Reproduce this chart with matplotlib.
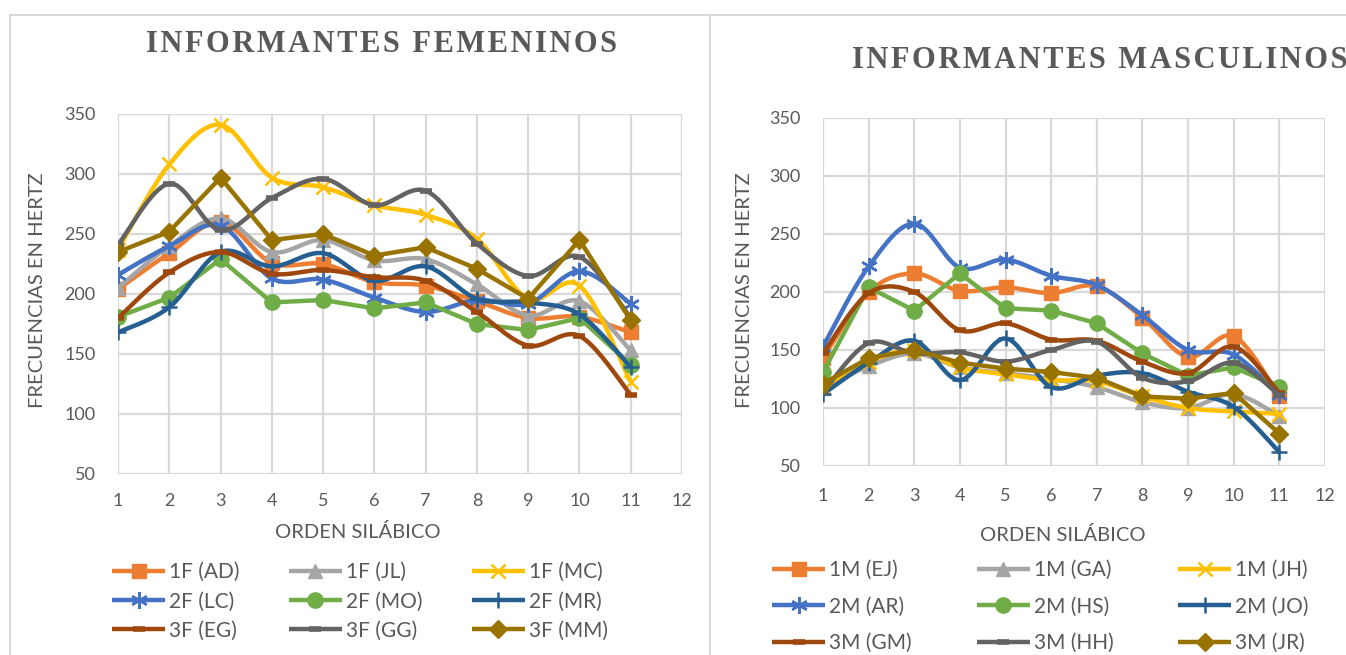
import numpy as np
import matplotlib
matplotlib.use("Agg")
import matplotlib.pyplot as plt
from matplotlib.patches import Rectangle

plt.rcParams['font.family'] = ['Lato', 'DejaVu Sans']

# Orden silábico
silabas = list(range(1, 12))

# Informantes femeninos (Hz)
f_ad = [204, 234, 260, 226, 225, 210, 207, 194, 180, 181, 168]
f_jl = [205, 240, 263, 235, 245, 228, 229, 208, 182, 194, 153]
f_mc = [237, 308, 341, 297, 289, 274, 266, 246, 196, 207, 127]
f_lc = [216, 240, 257, 213, 212, 197, 185, 195, 192, 219, 192]
f_mo = [181, 197, 229, 193, 195, 188, 193, 175, 170, 180, 141]
f_mr = [168, 189, 235, 223, 234, 211, 223, 196, 193, 183, 139]
f_eg = [180, 218, 235, 217, 220, 214, 211, 185, 157, 165, 116]
f_gg = [241, 292, 253, 280, 296, 274, 286, 242, 215, 231, 180]
f_mm = [235, 252, 297, 245, 250, 232, 239, 221, 196, 245, 178]

# Informantes masculinos (Hz)
m_ej = [143, 200, 216, 201, 204, 199, 205, 178, 144, 162, 110]
m_ga = [117, 136, 147, 135, 130, 125, 118, 105, 100, 112, 93]
m_jh = [118, 140, 150, 135, 129, 124, 123, 110, 100, 97, 95]
m_ar = [153, 222, 259, 221, 228, 214, 206, 180, 150, 146, 111]
m_hs = [131, 204, 184, 216, 186, 184, 173, 147, 128, 135, 118]
m_jo = [112, 139, 158, 124, 160, 118, 128, 130, 114, 101, 62]
m_gm = [147, 199, 200, 167, 173, 159, 158, 140, 130, 153, 113]
m_hh = [114, 156, 147, 148, 140, 150, 157, 126, 123, 139, 111]
m_jr = [121, 143, 150, 139, 134, 131, 126, 110, 108, 113, 78]

etiquetas_f = ['1F (AD)', '1F (JL)', '1F (MC)', '2F (LC)', '2F (MO)', '2F (MR)',
               '3F (EG)', '3F (GG)', '3F (MM)']
etiquetas_m = ['1M (EJ)', '1M (GA)', '1M (JH)', '2M (AR)', '2M (HS)', '2M (JO)',
               '3M (GM)', '3M (HH)', '3M (JR)']

# estilo de cada serie: color, marcador, tamaño, suavizado
estilos = [
    ('#ED7D31', 's', 10, True),
    ('#A5A5A5', '^', 10, True),
    ('#FFC000', 'x', 10, True),
    ('#4472C4', (6, 2, 0), 12, True),
    ('#70AD47', 'o', 11, False),
    ('#255E91', '+', 12, True),
    ('#9E480E', '_', 8, True),
    ('#636363', '_', 8, True),
    ('#997300', 'D', 9, False),
]

N = 20  # puntos por tramo


def suavizar(x, y):
    # curva tipo Excel (Bezier con tangentes Catmull-Rom)
    p = np.column_stack([x, y]).astype(float)
    out = []
    for i in range(len(p) - 1):
        p0 = p[i - 1] if i > 0 else p[i]
        p1, p2 = p[i], p[i + 1]
        p3 = p[i + 2] if i + 2 < len(p) else p[i + 1]
        c1 = p1 + (p2 - p0) / 6
        c2 = p2 - (p3 - p1) / 6
        t = np.linspace(0, 1, N, endpoint=False)[:, None]
        seg = ((1 - t) ** 3) * p1 + 3 * ((1 - t) ** 2) * t * c1 + 3 * (1 - t) * t ** 2 * c2 + t ** 3 * p2
        out.append(seg)
    out.append(p[-1:])
    s = np.vstack(out)
    return s[:, 0], s[:, 1]


def dibujar(ax, series, etiquetas):
    for y, lab, (col, mk, ms, smooth) in zip(series, etiquetas, estilos):
        if smooth:
            xs, ys = suavizar(silabas, y)
            every = list(range(0, len(xs), N))
        else:
            xs, ys = silabas, y
            every = None
        mew = 4 if mk == '_' else (1.8 if mk in ('x', '+', (6, 2, 0)) else 1)
        ax.plot(xs, ys, color=col, lw=3.2, marker=mk, ms=ms, mew=mew,
                markevery=every, label=lab, solid_capstyle='butt')
    ax.set_xlim(1, 12)
    ax.set_ylim(50, 350)
    ax.set_xticks(range(1, 13))
    ax.set_yticks(range(50, 351, 50))
    ax.grid(True, color='#D9D9D9', lw=1.6)
    ax.set_axisbelow(True)
    for s in ax.spines.values():
        s.set_visible(False)
    ax.tick_params(length=0, labelsize=13, labelcolor='#595959')


def leyenda(ax, x, y, colsp, labsp):
    # leyenda de tres columnas que se lee por filas
    h, l = ax.get_legend_handles_labels()
    orden = [0, 3, 6, 1, 4, 7, 2, 5, 8]
    ax.legend([h[i] for i in orden], [l[i] for i in orden], ncol=3, frameon=False,
              fontsize=15, handlelength=2.55, handletextpad=0.2, loc='upper left',
              labelcolor='#595959', borderaxespad=0, borderpad=0,
              bbox_to_anchor=(x / W, 1 - y / H), bbox_transform=fig.transFigure,
              columnspacing=colsp, labelspacing=labsp)


W, H = 1346, 655
fig = plt.figure(figsize=(W / 100, H / 100), dpi=100)

# marcos de los dos gráficos
fig.add_artist(Rectangle((10 / W, -0.05), 700 / W, 1 - 15 / H + 0.05, transform=fig.transFigure,
                         fill=False, edgecolor='#D9D9D9', lw=1.5))
fig.add_artist(Rectangle((710 / W, -0.05), 700 / W, 1 - 15 / H + 0.05, transform=fig.transFigure,
                         fill=False, edgecolor='#D9D9D9', lw=1.5))

ax1 = fig.add_axes([118 / W, 1 - 474 / H, (682 - 118) / W, (474 - 114) / H])
ax2 = fig.add_axes([823 / W, 1 - 466 / H, (1325 - 823) / W, (466 - 118) / H])

dibujar(ax1, [f_ad, f_jl, f_mc, f_lc, f_mo, f_mr, f_eg, f_gg, f_mm], etiquetas_f)
dibujar(ax2, [m_ej, m_ga, m_jh, m_ar, m_hs, m_jo, m_gm, m_hh, m_jr], etiquetas_m)
ax1.tick_params(axis='y', pad=16)
ax1.tick_params(axis='x', pad=14)
ax2.tick_params(axis='y', pad=16)
ax2.tick_params(axis='x', pad=16)

gris = '#595959'
titulo = dict(family='Liberation Serif', weight='bold', size=22, color=gris, ha='center', va='center')
fig.text(381 / W, 1 - 44 / H, '\u200a'.join('INFORMANTES FEMENINOS'), **titulo)
fig.text(1100 / W, 1 - 60 / H, '\u200a'.join('INFORMANTES MASCULINOS'), **titulo)

eje = dict(size=14.5, color=gris, ha='center', va='center')
fig.text(38 / W, 1 - 290 / H, 'FRECUENCIAS EN HERTZ', rotation=90, **eje)
fig.text(358 / W, 1 - 532 / H, 'ORDEN SILÁBICO', **eje)
fig.text(745 / W, 1 - 290 / H, 'FRECUENCIAS EN HERTZ', rotation=90, **eje)
fig.text(1063 / W, 1 - 535 / H, 'ORDEN SILÁBICO', **eje)

leyenda(ax1, 112, 562, 2.35, 0.45)
leyenda(ax2, 772, 560, 3.1, 0.8)

fig.savefig('out.png', dpi=100)
